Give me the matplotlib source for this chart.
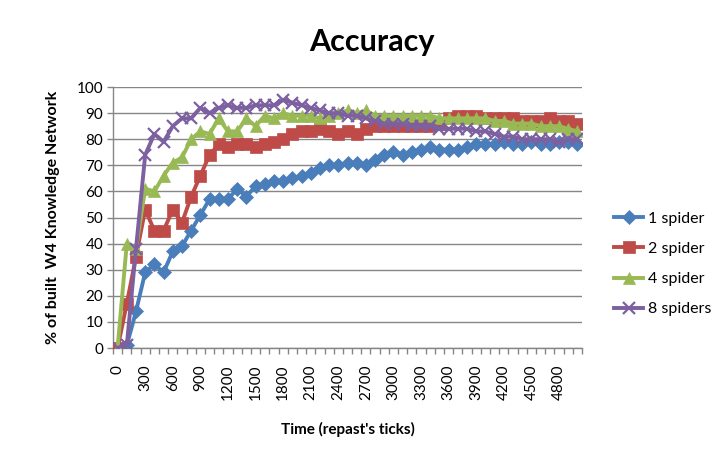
import matplotlib
matplotlib.use('Agg')
from matplotlib import pyplot as plt
from matplotlib.ticker import FixedLocator
import numpy as np

plt.rcParams['font.family'] = ['Lato', 'DejaVu Sans']

# Simulation time, one sample every 100 ticks
ticks = np.arange(0, 5001, 100)

one_spider = [0, 1, 14, 29, 32, 29, 37, 39, 45, 51,
              57, 57, 57, 61, 58, 62, 63, 64, 64, 65,
              66, 67, 69, 70, 70, 71, 71, 70, 72, 74,
              75, 74, 75, 76, 77, 76, 76, 76, 77, 78,
              78, 78, 79, 78, 78, 79, 78, 78, 79, 79, 78]
two_spiders = [0, 17, 35, 53, 45, 45, 53, 48, 58, 66,
               74, 78, 77, 78, 78, 77, 78, 79, 80, 82,
               83, 83, 84, 83, 82, 83, 82, 84, 85, 85,
               85, 85, 85, 85, 85, 86, 88, 89, 89, 89,
               88, 88, 88, 88, 87, 87, 87, 88, 87, 87, 86]
four_spiders = [0, 40, 38, 61, 60, 66, 71, 73, 80, 83,
                82, 88, 83, 83, 88, 85, 89, 88, 90, 89,
                89, 89, 88, 89, 90, 91, 90, 91, 89, 89,
                89, 89, 89, 89, 89, 88, 88, 88, 88, 88,
                88, 87, 87, 86, 86, 86, 85, 85, 85, 84, 83]
eight_spiders = [0, 1, 38, 74, 82, 79, 85, 88, 88, 92,
                 90, 92, 93, 92, 92, 93, 93, 93, 95, 94,
                 93, 92, 91, 90, 90, 89, 89, 88, 87, 86,
                 86, 86, 85, 85, 85, 84, 84, 84, 84, 83,
                 83, 82, 81, 81, 80, 80, 80, 80, 79, 80, 80]

labels = ['1 spider', '2 spider', '4 spider', '8 spiders']
series = [one_spider, two_spiders, four_spiders, eight_spiders]
colors = ['#4A7EBB', '#BE4B48', '#98B954', '#7D60A0']
markers = ['D', 's', '^', 'x']
msizes = [7, 9, 9, 9]

grey = '#868686'

fig = plt.figure(figsize=(7.27, 4.53), dpi=100)
ax = fig.add_axes([113/727., 1 - 348/453., 469/727., 261/453.])

for vals, lab, c, m, ms in zip(series, labels, colors, markers, msizes):
    ax.plot(ticks, vals, color=c, marker=m, markersize=ms, linewidth=2.8,
            markeredgewidth=1.6 if m == 'x' else 0.5, markeredgecolor=c,
            label=lab, zorder=3)

ax.set_xlim(-50, 5050)
ax.set_ylim(0, 100)

ax.set_xticks(np.arange(0, 4801, 300))
ax.set_xticklabels([str(t) for t in range(0, 4801, 300)], rotation=90, fontsize=11)
ax.xaxis.set_minor_locator(FixedLocator(np.arange(-50, 5051, 100)))
ax.tick_params(axis='x', which='major', length=0, pad=12)
ax.tick_params(axis='x', which='minor', length=4, color=grey, width=1)

ax.set_yticks(np.arange(0, 101, 10))
ax.tick_params(axis='y', labelsize=11, length=4, color=grey, width=1, pad=3)

ax.yaxis.grid(True, color=grey, linewidth=1)
ax.set_axisbelow(True)
for s in ['top', 'right']:
    ax.spines[s].set_visible(False)
for s in ['left', 'bottom']:
    ax.spines[s].set_color(grey)
    ax.spines[s].set_linewidth(1)

ax.set_xlabel("Time (repast's ticks)", fontsize=11, fontweight='bold', labelpad=16)
ax.set_ylabel('% of built  W4 Knowledge Network', fontsize=11.5, fontweight='bold', labelpad=12)
fig.text(372/727., 1 - 42/453., 'Accuracy', fontsize=22, fontweight='bold',
         ha='center', va='center')

fig.legend(loc='center left', bbox_to_anchor=(600/727., 1 - 264/453.), frameon=False,
           fontsize=11.5, handlelength=1.8, handletextpad=0.3, labelspacing=1.0)

plt.savefig('out.png', dpi=100)
